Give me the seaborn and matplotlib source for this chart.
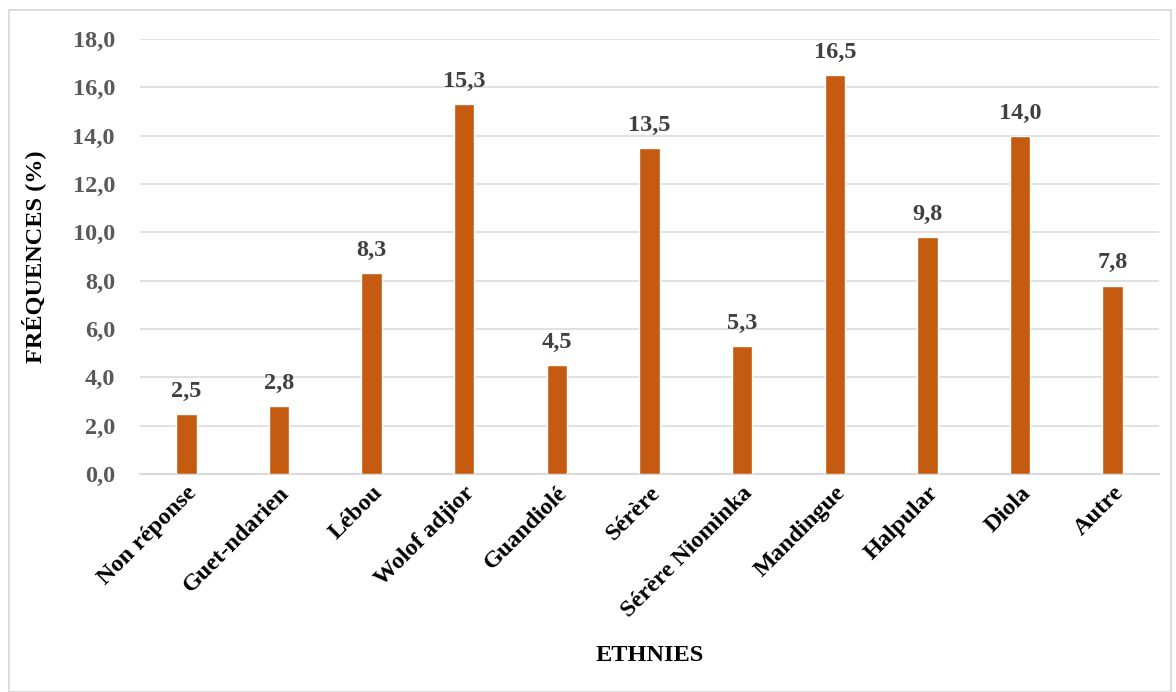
import matplotlib
matplotlib.use("Agg")
import matplotlib.pyplot as plt
from matplotlib.patches import Rectangle
import seaborn as sns
import pandas as pd

categories = ["Non réponse", "Guet-ndarien", "Lébou", "Wolof adjior", "Guandiolé",
              "Sérère", "Sérère Niominka", "Mandingue", "Halpular", "Diola", "Autre"]
frequences = [2.5, 2.8, 8.3, 15.3, 4.5, 13.5, 5.3, 16.5, 9.8, 14.0, 7.8]
yticks = [0, 2, 4, 6, 8, 10, 12, 14, 16, 18]

df = pd.DataFrame({"ethnie": categories, "freq": frequences})

sns.set_theme(style="white")
plt.rcParams["font.family"] = ["Liberation Serif", "DejaVu Serif"]
plt.rcParams["font.weight"] = "bold"

FS = 17.5

fig = plt.figure(figsize=(11.76, 6.92), dpi=100)
ax = fig.add_axes([140 / 1176, 1 - 474 / 692, (1159 - 140) / 1176, (474 - 39) / 692])

bar_color = "#C55A11"
sns.barplot(data=df, x="ethnie", y="freq", color=bar_color, width=0.22,
            saturation=1, ax=ax, zorder=3)

ax.set_ylim(0, 18)
ax.set_yticks(yticks)
ax.set_yticklabels([f"{v:.1f}".replace(".", ",") for v in yticks],
                   fontsize=FS, fontweight="bold", color="#595959")
ax.yaxis.grid(True, color="#D9D9D9", linewidth=1.1, zorder=0)
ax.set_axisbelow(True)
for side in ["top", "right", "left"]:
    ax.spines[side].set_visible(False)
ax.spines["bottom"].set_color("#D9D9D9")
ax.spines["bottom"].set_linewidth(1.5)
ax.tick_params(axis="y", length=0, pad=18)
ax.tick_params(axis="x", length=0, pad=6)

ax.set_xticks(range(len(categories)))
ax.set_xticklabels(categories, rotation=45, ha="right", rotation_mode="anchor",
                   fontsize=FS, fontweight="bold", color="black")

for i, v in enumerate(frequences):
    ax.text(i, v + 0.5, f"{v:.1f}".replace(".", ","), ha="center", va="bottom",
            fontsize=FS, fontweight="bold", color="#404040")

ax.set_xlabel("ETHNIES", fontsize=FS, fontweight="bold", color="black")
ax.xaxis.set_label_coords(0.5, (474 - 645) / (474 - 39), transform=ax.transAxes)
ax.set_ylabel("FRÉQUENCES (%)", fontsize=FS, fontweight="bold", color="black")
ax.yaxis.set_label_coords((46 - 140) / (1159 - 140), 0.5, transform=ax.transAxes)

# outer frame of the chart
fig.patches.append(Rectangle((9 / 1176, 0), 1 - 14 / 1176, 1 - 10 / 692,
                             transform=fig.transFigure, fill=False,
                             edgecolor="#D9D9D9", linewidth=1.3))

fig.savefig("out.png", dpi=100)
